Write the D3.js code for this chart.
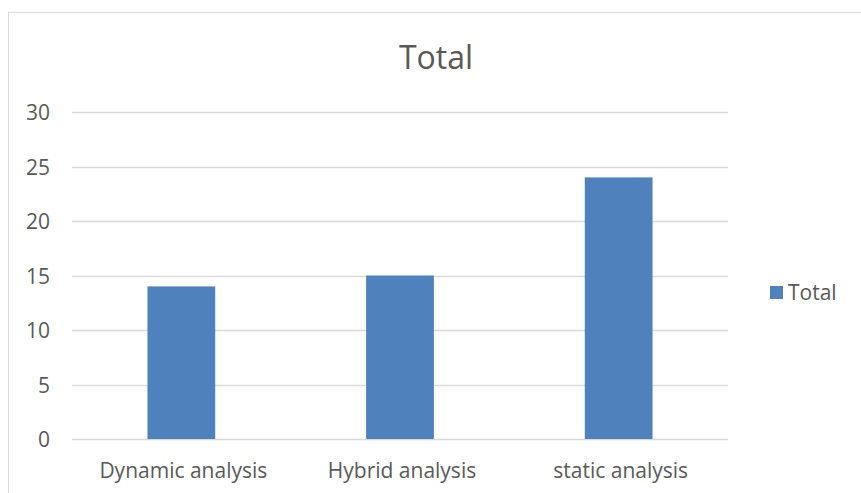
<!DOCTYPE html>
<html>
<head>
<meta charset="utf-8">
<script src="https://cdn.jsdelivr.net/npm/d3@7/dist/d3.min.js"></script>
<style>
  html, body { margin: 0; padding: 0; background: #fff; }
  svg { display: block; }
  text { font-family: "Open Sans", sans-serif; fill: #595959; }
</style>
</head>
<body>
<svg id="chart" width="861" height="493"></svg>
<script>
// Data
const categories = ["Dynamic analysis", "Hybrid analysis", "static analysis"];
const totals = [14, 15, 24];
const yTicks = [0, 5, 10, 15, 20, 25, 30];
const seriesName = "Total";
const chartTitle = "Total";

const svg = d3.select("#chart");
const W = 861, H = 493;
const plot = { left: 72, right: 728, top: 112, bottom: 439 };
const FONT = "'Open Sans', sans-serif";

// Outer chart frame
svg.append("rect")
  .attr("x", 8.5).attr("y", 12.5)
  .attr("width", W + 10).attr("height", H + 10)
  .attr("fill", "#fff").attr("stroke", "#d9d9d9").attr("stroke-width", 1);

const x = d3.scaleBand()
  .domain(categories)
  .range([plot.left, plot.right])
  .paddingInner(0.69).paddingOuter(0.345);

const y = d3.scaleLinear().domain([0, 30]).range([plot.bottom, plot.top]);

// Gridlines
svg.append("g").selectAll("line").data(yTicks).join("line")
  .attr("x1", plot.left).attr("x2", plot.right)
  .attr("y1", d => Math.round(y(d)) + 0.5).attr("y2", d => Math.round(y(d)) + 0.5)
  .attr("stroke", "#d9d9d9").attr("stroke-width", 1.3);

// Y axis labels
const yAxis = d3.axisLeft(y).tickValues(yTicks).tickSize(0).tickPadding(0);
const yg = svg.append("g").attr("transform", `translate(${plot.left - 22},0)`).call(yAxis);
yg.select(".domain").remove();
yg.selectAll("text").style("font-size", "21px").attr("fill", "#595959")
  .attr("dy", "0.36em")
  .style("font-family", FONT);

// Bars
svg.append("g").selectAll("rect").data(totals).join("rect")
  .attr("x", (d, i) => x(categories[i]))
  .attr("width", x.bandwidth())
  .attr("y", d => y(d))
  .attr("height", d => y(0) - y(d))
  .attr("fill", "#4f81bd");

// X axis labels
const xAxis = d3.axisBottom(x).tickSize(0).tickPadding(0);
const xg = svg.append("g").attr("transform", `translate(2,${plot.bottom + 24})`).call(xAxis);
xg.select(".domain").remove();
xg.selectAll("text").style("font-size", "21px").attr("fill", "#595959")
  .style("font-family", FONT);

// Title
svg.append("text")
  .attr("x", (plot.left + plot.right) / 2 + 36).attr("y", 69)
  .attr("text-anchor", "middle")
  .style("font-size", "32px")
  .text(chartTitle);

// Legend
const lg = svg.append("g").attr("transform", "translate(770,286)");
lg.append("rect").attr("width", 13).attr("height", 13).attr("fill", "#4f81bd");
lg.append("text").attr("x", 18).attr("y", 13.5).style("font-size", "21px").text(seriesName);
</script>
</body>
</html>
